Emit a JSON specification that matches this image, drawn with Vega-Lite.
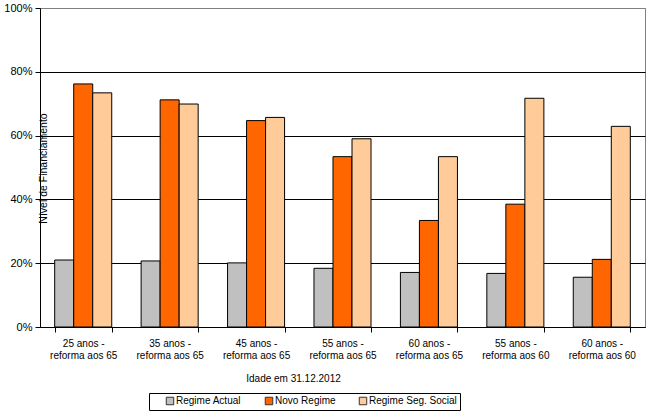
{
  "$schema": "https://vega.github.io/schema/vega-lite/v6.json",
  "width": 605,
  "height": 319,
  "autosize": {"type": "none"},
  "padding": {"left": 40, "top": 8, "right": 4, "bottom": 90},
  "background": "white",
  "config": {
    "font": "Liberation Sans",
    "view": {"stroke": "#808080", "strokeWidth": 1},
    "axis": {"labelColor": "black", "titleColor": "black", "domainColor": "black", "tickColor": "black", "titleFontWeight": "normal"}
  },
  "data": {
    "values": [
      {"idade": "25 anos - reforma aos 65", "regime": "Regime Actual", "valor": 0.210},
      {"idade": "25 anos - reforma aos 65", "regime": "Novo Regime", "valor": 0.762},
      {"idade": "25 anos - reforma aos 65", "regime": "Regime Seg. Social", "valor": 0.734},
      {"idade": "35 anos - reforma aos 65", "regime": "Regime Actual", "valor": 0.207},
      {"idade": "35 anos - reforma aos 65", "regime": "Novo Regime", "valor": 0.712},
      {"idade": "35 anos - reforma aos 65", "regime": "Regime Seg. Social", "valor": 0.699},
      {"idade": "45 anos - reforma aos 65", "regime": "Regime Actual", "valor": 0.201},
      {"idade": "45 anos - reforma aos 65", "regime": "Novo Regime", "valor": 0.647},
      {"idade": "45 anos - reforma aos 65", "regime": "Regime Seg. Social", "valor": 0.657},
      {"idade": "55 anos - reforma aos 65", "regime": "Regime Actual", "valor": 0.184},
      {"idade": "55 anos - reforma aos 65", "regime": "Novo Regime", "valor": 0.534},
      {"idade": "55 anos - reforma aos 65", "regime": "Regime Seg. Social", "valor": 0.590},
      {"idade": "60 anos - reforma aos 65", "regime": "Regime Actual", "valor": 0.171},
      {"idade": "60 anos - reforma aos 65", "regime": "Novo Regime", "valor": 0.334},
      {"idade": "60 anos - reforma aos 65", "regime": "Regime Seg. Social", "valor": 0.534},
      {"idade": "55 anos - reforma aos 60", "regime": "Regime Actual", "valor": 0.168},
      {"idade": "55 anos - reforma aos 60", "regime": "Novo Regime", "valor": 0.385},
      {"idade": "55 anos - reforma aos 60", "regime": "Regime Seg. Social", "valor": 0.717},
      {"idade": "60 anos - reforma aos 60", "regime": "Regime Actual", "valor": 0.156},
      {"idade": "60 anos - reforma aos 60", "regime": "Novo Regime", "valor": 0.212},
      {"idade": "60 anos - reforma aos 60", "regime": "Regime Seg. Social", "valor": 0.629}
    ]
  },
  "mark": {"type": "bar", "stroke": "black", "strokeWidth": 1},
  "encoding": {
    "x": {
      "field": "idade",
      "type": "nominal",
      "sort": null,
      "scale": {"paddingInner": 0.34, "paddingOuter": 0.17},
      "axis": {
        "title": "Idade em 31.12.2012",
        "titleFontSize": 10,
        "titleX": 253,
        "titleY": 51,
        "titleAlign": "center",
        "titleBaseline": "middle",
        "labelAngle": 0,
        "labelFontSize": 10,
        "labelPadding": 6,
        "labelLineHeight": 12,
        "labelExpr": "isValid(datum.value) ? [split(datum.value, ' - ')[0] + ' -', split(datum.value, ' - ')[1]] : ''",
        "tickBand": "extent",
        "tickSize": 5,
        "domainColor": "black"
      }
    },
    "xOffset": {"field": "regime", "type": "nominal", "sort": ["Regime Actual", "Novo Regime", "Regime Seg. Social"]},
    "y": {
      "field": "valor",
      "type": "quantitative",
      "scale": {"domain": [0, 1], "nice": false},
      "axis": {
        "title": "Nível de Financiamento",
        "titleFontSize": 10.5,
        "titleX": 3,
        "titleY": 160,
        "titleAngle": -90,
        "titleAlign": "center",
        "titleBaseline": "middle",
        "values": [0, 0.2, 0.4, 0.6, 0.8, 1],
        "format": ".0%",
        "labelFontSize": 11,
        "labelPadding": 3,
        "tickSize": 5,
        "grid": true,
        "gridColor": {"condition": {"test": "datum.value >= 1", "value": "#808080"}, "value": "black"},
        "gridOpacity": 1
      }
    },
    "color": {
      "field": "regime",
      "type": "nominal",
      "sort": ["Regime Actual", "Novo Regime", "Regime Seg. Social"],
      "scale": {"domain": ["Regime Actual", "Novo Regime", "Regime Seg. Social"], "range": ["#C0C0C0", "#FF6600", "#FFCC99"]},
      "legend": {
        "title": null,
        "orient": "none",
        "legendX": 109,
        "legendY": 385,
        "direction": "horizontal",
        "columns": 3,
        "gridAlign": "none",
        "columnPadding": 9,
        "symbolType": "square",
        "symbolSize": 56,
        "symbolStrokeColor": "#333333",
        "symbolStrokeWidth": 1,
        "symbolOpacity": 1,
        "symbolOffset": 13,
        "labelOffset": 1,
        "labelFontSize": 10,
        "labelColor": "black",
        "padding": 3,
        "strokeColor": "black",
        "fillColor": "white"
      }
    }
  }
}
